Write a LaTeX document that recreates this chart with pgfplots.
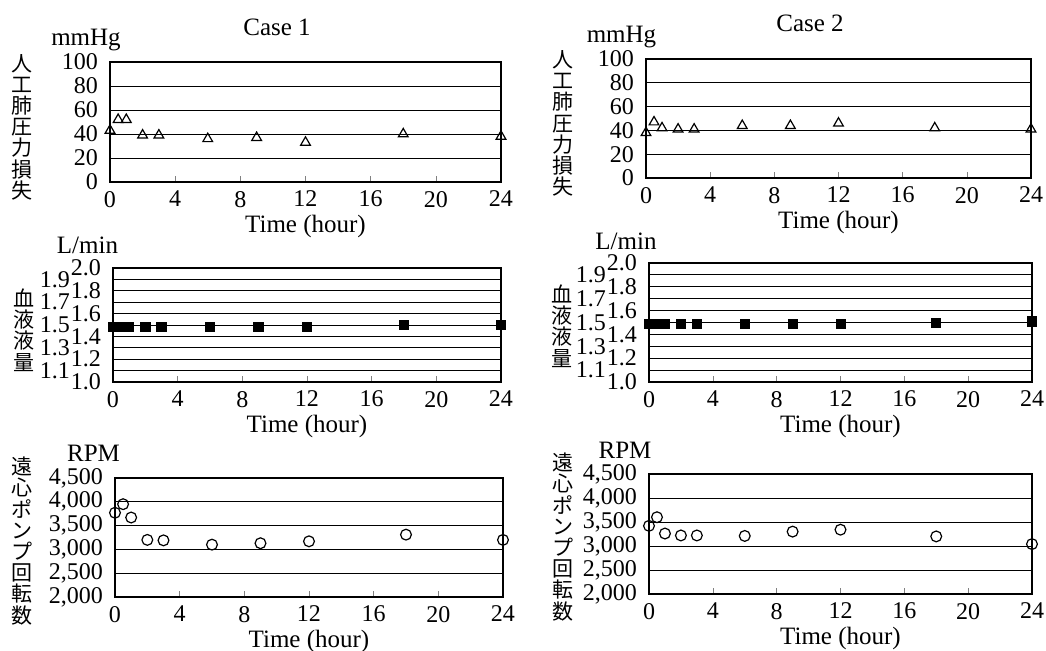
\documentclass[border=0pt]{standalone}
\usepackage{pgfplots}
\pgfplotsset{compat=1.18}
\usepackage{fontspec}
\setmainfont{Liberation Serif}
\newfontfamily\cjk{Noto Sans CJK JP}
\pgfplotsset{
  panel/.style={
    scale only axis, anchor=south west, clip=false,
    xmin=0, xmax=24, xtick={0,4,...,24},
    tick align=inside, xtick pos=bottom, major tick length=3pt,
    ytick style={draw=none},
    ymajorgrids, major grid style={black, line width=0.45pt},
    axis line style={line width=0.75pt},
    tick label style={font=\fontsize{12}{12.5}\selectfont},
    yticklabel style={xshift=-2.5pt},
    xticklabel style={yshift=-1pt},
    /pgf/number format/assume math mode=true,
    xlabel={Time (hour)}, xlabel style={font=\fontsize{12.5}{13}\selectfont, yshift=3pt},
  },
  tri/.style={only marks, mark=triangle, mark size=2.8pt, mark options={draw=black, fill=white, line width=0.6pt}},
  sq/.style={only marks, mark=square*, mark size=2.3pt, mark options={draw=black, fill=black}},
  circ/.style={only marks, mark=o, mark size=2.7pt, mark options={draw=black, fill=white, line width=0.6pt}},
  pres/.style={ymin=0, ymax=100, ytick={0,20,...,100}},
  flow/.style={ymin=1.0, ymax=2.0, ytick={1.0,1.2,1.4,1.6,1.8,2.0},
    yticklabel style={/pgf/number format/fixed, /pgf/number format/fixed zerofill, /pgf/number format/precision=1},
    extra y ticks={1.1,1.3,1.5,1.7,1.9},
    extra y tick style={grid=major, yticklabel style={xshift=-15.5pt}}},
  rpm/.style={ymin=2000, ymax=4500, ytick={2000,2500,...,4500}, scaled y ticks=false,
    yticklabel style={/pgf/number format/1000 sep={,}}},
}
\tikzset{
  vl/.style={align=center, inner sep=0pt, font=\cjk\fontsize{10.5}{10.6}\selectfont},
  ut/.style={font=\fontsize{12.5}{13}\selectfont},
}
\begin{document}
\begin{tikzpicture}
\path[use as bounding box] (0pt,0pt) rectangle (523pt,-325pt);
% ---------- Case 1, pressure
\begin{axis}[panel, pres, at={(55pt,-91pt)}, width=195.5pt, height=60pt]
\addplot[tri] coordinates {(0,43) (0.5,52) (1,52) (2,39) (3,39) (6,36) (9,37) (12,33) (18,40) (24,38)};
\end{axis}
% ---------- Case 2, pressure
\begin{axis}[panel, pres, at={(323pt,-89pt)}, width=192.5pt, height=59.5pt]
\addplot[tri] coordinates {(0,38) (0.5,47) (1,42) (2,41) (3,41) (6,44) (9,44) (12,46) (18,42) (24,41)};
\end{axis}
% ---------- Case 1, flow
\begin{axis}[panel, flow, at={(56.5pt,-191pt)}, width=194pt, height=57pt]
\addplot[sq] coordinates {(0,1.48) (0.5,1.48) (1,1.48) (2,1.48) (3,1.48) (6,1.48) (9,1.48) (12,1.48) (18,1.50) (24,1.50)};
\end{axis}
% ---------- Case 2, flow
\begin{axis}[panel, flow, at={(324.5pt,-191pt)}, width=191.5pt, height=59.5pt]
\addplot[sq] coordinates {(0,1.49) (0.5,1.49) (1,1.49) (2,1.49) (3,1.49) (6,1.49) (9,1.49) (12,1.49) (18,1.50) (24,1.51)};
\end{axis}
% ---------- Case 1, RPM
\begin{axis}[panel, rpm, at={(57.5pt,-298.5pt)}, width=194pt, height=59.5pt]
\addplot[circ] coordinates {(0,3770) (0.5,3950) (1,3670) (2,3200) (3,3190) (6,3100) (9,3130) (12,3170) (18,3310) (24,3200)};
\end{axis}
% ---------- Case 2, RPM
\begin{axis}[panel, rpm, at={(324.5pt,-297pt)}, width=191.5pt, height=60pt]
\addplot[circ] coordinates {(0,3420) (0.5,3600) (1,3260) (2,3220) (3,3220) (6,3210) (9,3300) (12,3340) (18,3200) (24,3040)};
\end{axis}
% ---------- titles and units
\node[ut] at (138.5pt,-13.5pt) {Case 1};
\node[ut] at (405pt,-11.5pt) {Case 2};
\node[ut] at (43pt,-20pt) {mmHg};
\node[ut] at (310.75pt,-18.5pt) {mmHg};
\node[ut] at (43.75pt,-122.5pt) {L/min};
\node[ut] at (313pt,-120.5pt) {L/min};
\node[ut] at (46.75pt,-226.5pt) {RPM};
\node[ut] at (312.5pt,-225pt) {RPM};
% ---------- vertical Japanese labels
\node[vl] at (11pt,-63.5pt) {人\\工\\肺\\圧\\力\\損\\失};
\node[vl] at (281.5pt,-61.75pt) {人\\工\\肺\\圧\\力\\損\\失};
\node[vl] at (12pt,-165pt) {血\\液\\液\\量};
\node[vl] at (281pt,-163pt) {血\\液\\液\\量};
\node[vl] at (11pt,-270.5pt) {遠\\心\\ポ\\ン\\プ\\回\\転\\数};
\node[vl] at (281.5pt,-268.5pt) {遠\\心\\ポ\\ン\\プ\\回\\転\\数};
\end{tikzpicture}
\end{document}
